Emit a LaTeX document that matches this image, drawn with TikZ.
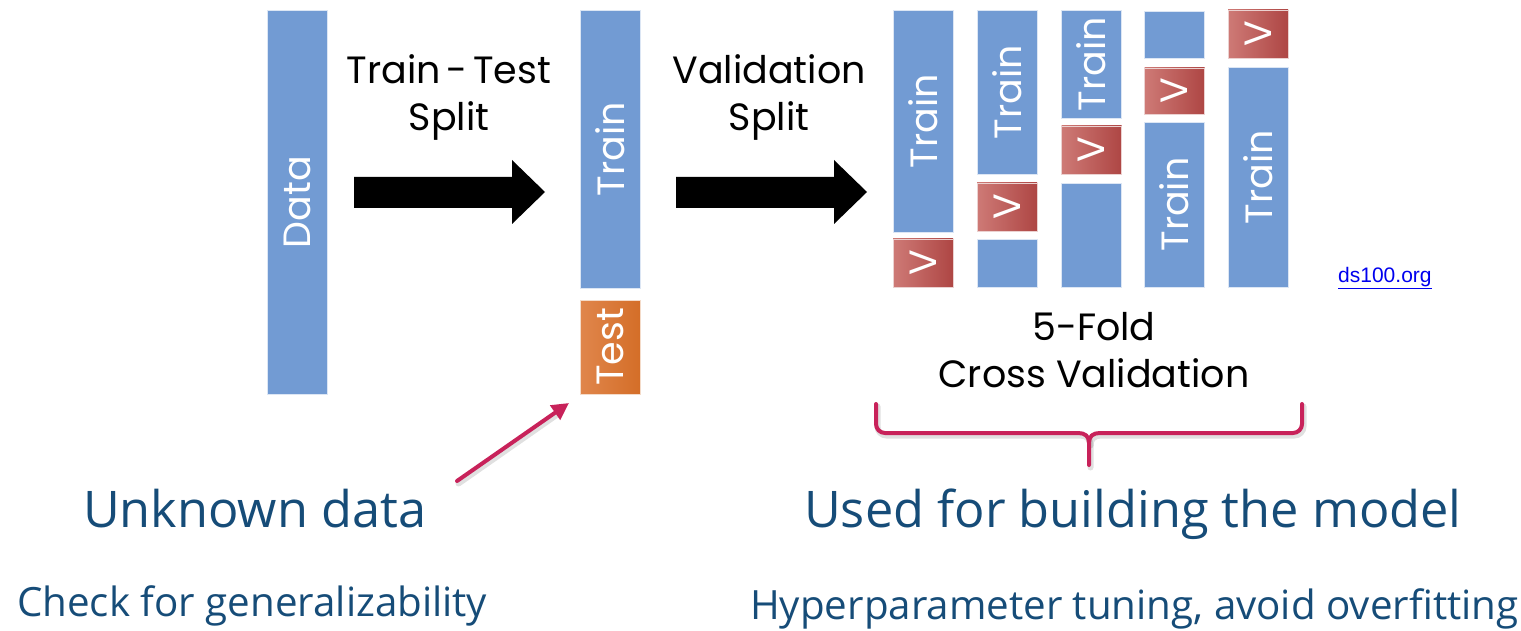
\documentclass[tikz,border=0pt]{standalone}
\usepackage{fontspec}
\newfontfamily\gothic{Poppins}
\newfontfamily\segoe{Open Sans}
\newfontfamily\arialf{Liberation Sans}
\usetikzlibrary{arrows.meta}
\definecolor{barblue}{RGB}{114,155,211}
\definecolor{vlight}{RGB}{206,122,118}
\definecolor{vdark}{RGB}{174,70,68}
\definecolor{olight}{RGB}{224,134,76}
\definecolor{odark}{RGB}{212,110,40}
\definecolor{crim}{RGB}{200,34,90}
\definecolor{navy}{RGB}{22,76,120}
\definecolor{linkblue}{RGB}{0,0,238}
\tikzset{
  bar/.style={fill=barblue, draw=white!75!barblue, line width=0.8pt, inner sep=0pt, minimum width=60pt},
  vbox/.style={left color=vlight, right color=vdark, draw=white!75!vdark, line width=0.8pt, inner sep=0pt, minimum width=60pt},
  tbox/.style={left color=olight, right color=odark, draw=white!75!odark, line width=0.8pt, inner sep=0pt, minimum width=60pt},
  lbl/.style={text=white, font=\gothic\fontsize{38}{40}\selectfont, rotate=90, inner sep=0pt},
  head/.style={font=\gothic\fontsize{38}{47}\selectfont, align=center, inner sep=0pt},
  big/.style={text=navy, font=\segoe\fontsize{50.5}{54}\selectfont, inner sep=0pt, anchor=base west},
  small/.style={text=navy, font=\segoe\fontsize{40.3}{44}\selectfont, inner sep=0pt, anchor=base west},
  blockarrow/.style={fill=black},
  crimline/.style={draw=crim, line width=4pt, line cap=round, line join=round},
  shadowline/.style={draw=black, opacity=0.12, line width=6pt, line cap=round, line join=round}
}
\begin{document}
\begin{tikzpicture}[x=1pt,y=-1pt]
\useasboundingbox (0,0) rectangle (1521,631);
% Data column
\node[bar, minimum height=384pt] (data) at (297,202) {};
\node[lbl] at (data.center) {Data};
% Train / Test
\node[bar, minimum height=278pt] (train) at (610,149) {};
\node[lbl] at (train.center) {Train};
\node[tbox, minimum height=94pt] (test) at (610,347) {};
\node[lbl] at (test.center) {Test};
% block arrows
\fill[blockarrow] (354,177) -- (512,177) -- (512,160) -- (545,192) -- (512,224) -- (512,208) -- (354,208) -- cycle;
\fill[blockarrow] (676,177) -- (834,177) -- (834,160) -- (867,192) -- (834,224) -- (834,208) -- (676,208) -- cycle;
\node[head] (tts) at (449,97) {Train\hspace{0.15em}-\hspace{0.15em}Test\\Split};
\node[head] (vs) at (769,97) {Validation\\Split};
% 5 folds
% col1
\node[bar, minimum height=222pt] (c1t) at (923,121) {};
\node[lbl] at (c1t.center) {Train};
\node[vbox, minimum height=48pt] (c1v) at (923,263) {};
\node[lbl] at (c1v.center) {V};
% col2
\node[bar, minimum height=164pt] (c2t) at (1007,92) {};
\node[lbl] at (c2t.center) {Train};
\node[vbox, minimum height=48pt] (c2v) at (1007,207) {};
\node[lbl] at (c2v.center) {V};
\node[bar, minimum height=48pt] (c2b) at (1007,263) {};
% col3
\node[bar, minimum height=108pt] (c3t) at (1091.5,64) {};
\node[lbl] at (c3t.center) {Train};
\node[vbox, minimum height=48pt] (c3v) at (1091.5,150) {};
\node[lbl] at (c3v.center) {V};
\node[bar, minimum height=104pt] (c3b) at (1091.5,235) {};
% col4
\node[bar, minimum height=47pt] (c4a) at (1174.5,34.5) {};
\node[vbox, minimum height=46pt] (c4v) at (1174.5,91) {};
\node[lbl] at (c4v.center) {V};
\node[bar, minimum height=165pt] (c4t) at (1174.5,204.5) {};
\node[lbl] at (c4t.center) {Train};
% col5
\node[vbox, minimum height=48pt] (c5v) at (1258,34) {};
\node[lbl] at (c5v.center) {V};
\node[bar, minimum height=220pt] (c5t) at (1258,177) {};
\node[lbl] at (c5t.center) {Train};
% link
\node[text=linkblue, font=\arialf\fontsize{21}{24}\selectfont, inner sep=0pt, anchor=base west] (link) at (1338,282) {\underline{ds100.org}};
% caption
\node[head] (cv) at (1094,350) {5-Fold\\Cross Validation};
% brace
\coordinate (bl) at (876,404);
\coordinate (br) at (1302,404);
\coordinate (bm) at (1089,465);
\begin{scope}[shift={(1.5,2.5)}]
\draw[shadowline] (876,404) -- (876,424) to[out=-90,in=180] (885,433) -- (1078,433)
  .. controls (1085,433) and (1089,436) .. (1089,443) -- (1089,465);
\draw[shadowline] (1302,404) -- (1302,424) to[out=-90,in=0] (1293,433) -- (1100,433)
  .. controls (1093,433) and (1089,436) .. (1089,443);
\draw[shadowline] (457,481) -- (560,409);
\end{scope}
\draw[crimline] (bl) -- (876,424) to[out=-90,in=180] (885,433) -- (1078,433)
  .. controls (1085,433) and (1089,436) .. (1089,443) -- (bm);
\draw[crimline] (br) -- (1302,424) to[out=-90,in=0] (1293,433) -- (1100,433)
  .. controls (1093,433) and (1089,436) .. (1089,443);
% red arrow
\coordinate (atail) at (457,481);
\coordinate (ahead) at (569,403);
\draw[crimline, -{Triangle[length=17pt,width=17pt]}] (atail) -- (ahead);
% bottom texts
\node[big] (unk) at (83,527) {Unknown data};
\node[big] (used) at (804,527) {Used for building the model};
\node[small] (chk) at (17,616) {Check for generalizability};
\node[small] (hyp) at (750,619) {Hyperparameter tuning, avoid overfitting};
\end{tikzpicture}
\end{document}
